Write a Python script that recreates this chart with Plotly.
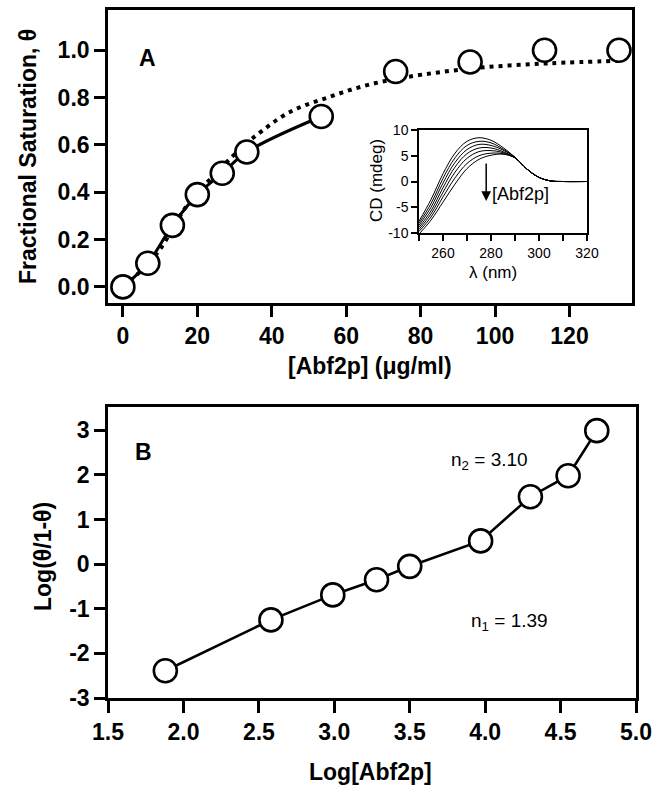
import plotly.graph_objects as go

# ---------------- Data ----------------
# Panel A: binding isotherm
conc_ugml = [0, 6.7, 13.3, 20, 26.7, 33.3, 53.3, 73.3, 93.3, 113.3, 133.3]
theta = [0.0, 0.10, 0.26, 0.39, 0.48, 0.57, 0.72, 0.91, 0.95, 1.00, 1.00]
n_solid = 7  # solid line connects first 7 points

# dotted fit curve
fit_x = [0, 5, 10, 17.5, 25, 30, 35, 45, 55, 65, 76, 95, 115, 133]
fit_y = [0.0, 0.07, 0.16, 0.35, 0.48, 0.56, 0.63, 0.74, 0.80, 0.85, 0.886, 0.925, 0.945, 0.955]
a_xticks = [0, 20, 40, 60, 80, 100, 120]
a_yticks = [0.0, 0.2, 0.4, 0.6, 0.8, 1.0]

# Inset: CD spectra
wavelength = [250, 255, 260, 265, 270, 275, 280, 285, 290, 295, 300, 305, 310, 320]
cd_1 = [-7.7, -3.5, 1.5, 5.5, 7.8, 8.5, 8.0, 6.6, 4.7, 2.4, 0.8, 0.1, 0.0, 0.0]
cd_2 = [-8.1, -4.3, 0.6, 4.6, 7.0, 7.8, 7.5, 6.3, 4.7, 2.4, 0.8, 0.1, 0.0, 0.0]
cd_3 = [-8.5, -5.0, -0.3, 3.7, 6.2, 7.2, 7.0, 6.1, 4.7, 2.4, 0.8, 0.1, 0.0, 0.0]
cd_4 = [-8.9, -5.7, -1.2, 2.8, 5.4, 6.5, 6.5, 5.8, 4.6, 2.4, 0.8, 0.1, 0.0, 0.0]
cd_5 = [-9.3, -6.3, -2.1, 1.8, 4.5, 5.8, 6.0, 5.6, 4.6, 2.4, 0.8, 0.1, 0.0, 0.0]
cd_6 = [-9.7, -6.9, -3.0, 0.7, 3.5, 5.0, 5.5, 5.4, 4.6, 2.4, 0.8, 0.1, 0.0, 0.0]
cd_7 = [-10.2, -7.5, -4.0, -0.5, 2.5, 4.3, 5.1, 5.3, 4.6, 2.4, 0.8, 0.1, 0.0, 0.0]
cd_spectra = [cd_1, cd_2, cd_3, cd_4, cd_5, cd_6, cd_7]
inset_xticks = [260, 280, 300, 320]
inset_yticks = [-10, -5, 0, 5, 10]
inset_yticklabels = ["-10", "-5", "0", "5", "10"]

# Panel B: Hill plot
log_abf2p = [1.88, 2.58, 2.99, 3.28, 3.50, 3.97, 4.30, 4.55, 4.74]
log_ratio = [-2.39, -1.25, -0.69, -0.35, -0.05, 0.52, 1.51, 1.98, 2.99]
b_xticks = [1.5, 2.0, 2.5, 3.0, 3.5, 4.0, 4.5, 5.0]
b_yticks = [-3, -2, -1, 0, 1, 2, 3]
b_yticklabels = ["-3", "-2", "-1", "0", "1", "2", "3"]

# ---------------- Figure ----------------
W, H = 663, 792
def px(x):
    return x / W
def py(y):
    return 1 - y / H

BOLD = dict(family="Liberation Sans, Arial, sans-serif", size=23, color="black", weight="bold")
REG = "Liberation Sans, Arial, sans-serif"

fig = go.Figure()

marker = dict(symbol="circle", size=23, color="white", line=dict(color="black", width=2.6))

# Panel A
fig.add_trace(go.Scatter(x=fit_x, y=fit_y, mode="lines", line=dict(color="black", width=4, dash="4px,5px", shape="spline"),
                         xaxis="x", yaxis="y", showlegend=False))
fig.add_trace(go.Scatter(x=conc_ugml[:n_solid], y=theta[:n_solid], mode="lines",
                         line=dict(color="black", width=3, shape="spline"), xaxis="x", yaxis="y", showlegend=False))
fig.add_trace(go.Scatter(x=conc_ugml, y=theta, mode="markers", marker=marker, xaxis="x", yaxis="y", showlegend=False))

# Inset
for s in cd_spectra:
    fig.add_trace(go.Scatter(x=wavelength, y=s, mode="lines", line=dict(color="black", width=1, shape="spline"),
                             xaxis="x2", yaxis="y2", showlegend=False))

# Panel B
fig.add_trace(go.Scatter(x=log_abf2p, y=log_ratio, mode="lines+markers", line=dict(color="black", width=2.6),
                         marker=marker, xaxis="x3", yaxis="y3", showlegend=False))

axis_common = dict(showline=True, linecolor="black", linewidth=2.6, mirror=True, ticks="outside",
                   tickcolor="black", tickwidth=2.6, showgrid=False, zeroline=False, tickfont=BOLD, automargin=False)
inset_common = dict(showline=True, linecolor="black", linewidth=1.5, mirror=True, ticks="outside", tickcolor="black",
                    tickwidth=1.5, ticklen=6, showgrid=False, zeroline=False, automargin=False,
                    tickfont=dict(family=REG, size=14, color="black"))

fig.update_layout(
    width=W, height=H, margin=dict(l=0, r=0, t=0, b=0, autoexpand=False),
    paper_bgcolor="white", plot_bgcolor="white",
    xaxis=dict(**axis_common, domain=[px(108), px(632)], range=[-4, 136.8], tickvals=a_xticks,
               ticklen=11, anchor="y"),
    yaxis=dict(**axis_common, domain=[py(303), py(10)], range=[-0.068, 1.17],
               tickvals=a_yticks, tickformat=".1f", ticklen=11, anchor="x"),
    xaxis2=dict(**inset_common, domain=[px(419), px(587)], range=[250, 320], tickvals=inset_xticks,
                minor=dict(tickmode="linear", tick0=250, dtick=10, ticks="outside", ticklen=6, tickwidth=1.5,
                           tickcolor="black", showgrid=False),
                anchor="y2"),
    yaxis2=dict(**inset_common, domain=[py(233), py(130)], range=[-10, 10],
                tickvals=inset_yticks, ticktext=inset_yticklabels, anchor="x2"),
    xaxis3=dict(**axis_common, domain=[px(108), px(636)], range=[1.5, 5.0],
                tickvals=b_xticks, tickformat=".1f", ticklen=12, anchor="y3"),
    yaxis3=dict(**axis_common, domain=[py(698), py(407)], range=[-3, 3.52],
                tickvals=b_yticks, ticktext=b_yticklabels, ticklen=11, anchor="x3"),
)

ann = []
# axis titles
ann.append(dict(text="Fractional Saturation, θ", x=px(28), y=py(157), textangle=-90, font=BOLD))
ann.append(dict(text="[Abf2p] (μg/ml)", x=px(370), y=py(366), font=BOLD))
ann.append(dict(text="Log(θ/1-θ)", x=px(43), y=py(557), textangle=-90, font=BOLD))
ann.append(dict(text="Log[Abf2p]", x=px(370), y=py(772), font=BOLD))
# panel letters
ann.append(dict(text="A", x=px(147), y=py(58), font=BOLD))
ann.append(dict(text="B", x=px(143), y=py(452), font=BOLD))
# inset titles
ann.append(dict(text="CD (mdeg)", x=px(376), y=py(181), textangle=-90, font=dict(family=REG, size=17, color="black")))
ann.append(dict(text="λ (nm)", x=px(493), y=py(272), font=dict(family=REG, size=17, color="black")))
for a in ann:
    a.update(xref="paper", yref="paper", showarrow=False, xanchor="center", yanchor="middle")
fig.update_layout(annotations=ann)

# inset arrow and label
fig.add_annotation(x=278, y=-3.8, ax=278, ay=3.8, xref="x2", yref="y2", axref="x2", ayref="y2",
                   showarrow=True, arrowhead=2, arrowsize=1.3, arrowwidth=1.5, arrowcolor="black", text="")
fig.add_annotation(x=279.5, y=-2.4, xref="x2", yref="y2", text="[Abf2p]", showarrow=False, xanchor="left",
                   yanchor="middle", font=dict(family=REG, size=18, color="black"))

# Panel B slope annotations
fig.add_annotation(x=3.89, y=-1.3, xref="x3", yref="y3", text="n<sub>1</sub> = 1.39", showarrow=False,
                   xanchor="left", yanchor="middle", font=dict(family=REG, size=19, color="black"))
fig.add_annotation(x=3.76, y=2.3, xref="x3", yref="y3", text="n<sub>2</sub> = 3.10", showarrow=False,
                   xanchor="left", yanchor="middle", font=dict(family=REG, size=19, color="black"))

fig.write_html("out.html", config={"displayModeBar": False},
               post_script="document.body.style.margin='0';")
